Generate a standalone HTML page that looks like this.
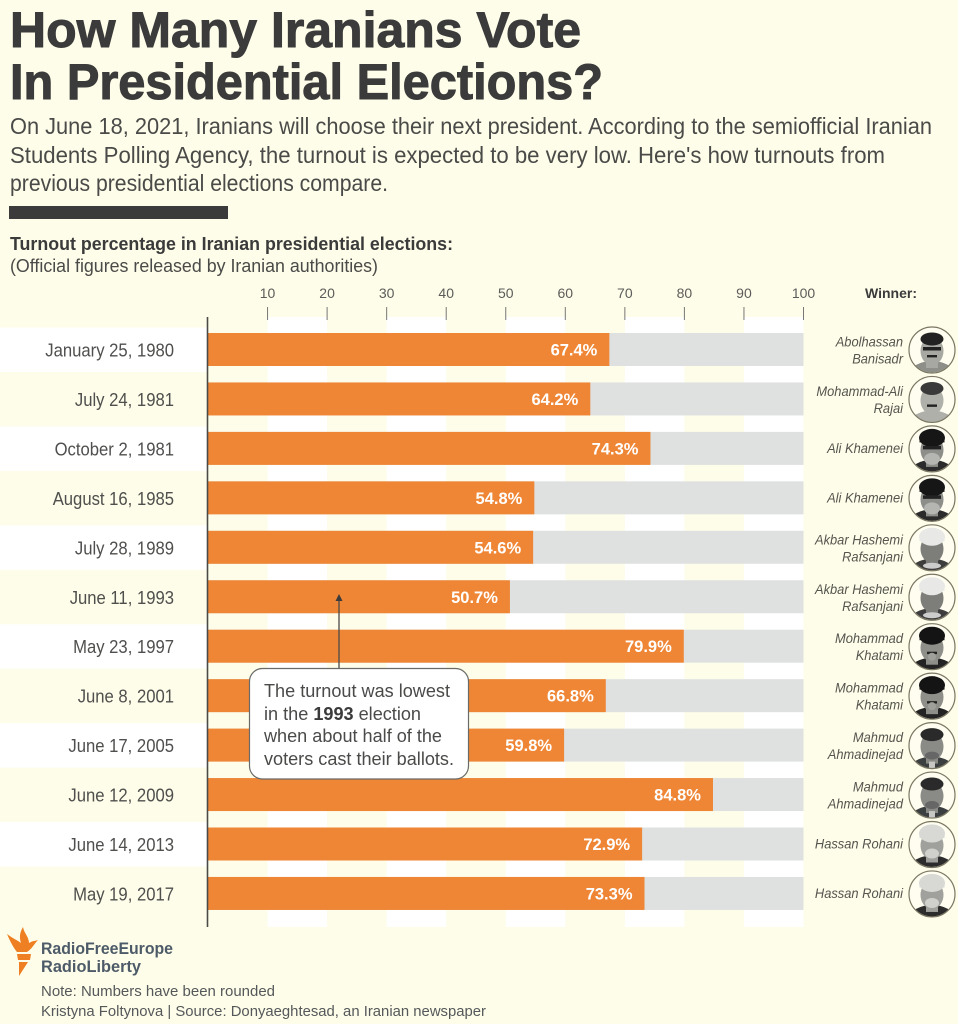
<!DOCTYPE html>
<html lang="en">
<head>
<meta charset="utf-8">
<title>How Many Iranians Vote In Presidential Elections?</title>
<style>
html,body{margin:0;padding:0;background:#fefde9;}
svg{display:block;font-family:"Liberation Sans",sans-serif;}
</style>
</head>
<body>
<svg id="page" xmlns="http://www.w3.org/2000/svg" width="958" height="1024" viewBox="0 0 958 1024">
  <rect x="0" y="0" width="958" height="1024" fill="#fefde9"/>
  <g fill="#3b3b3b" stroke="#3b3b3b" stroke-width="1" font-weight="700" font-size="50">
    <text x="10" y="47" textLength="571" lengthAdjust="spacingAndGlyphs">How Many Iranians Vote</text>
    <text x="10" y="99" textLength="593" lengthAdjust="spacingAndGlyphs">In Presidential Elections?</text>
  </g>
  <g fill="#4a4a48" font-size="23.5">
    <text x="10" y="134" textLength="922" lengthAdjust="spacingAndGlyphs">On June 18, 2021, Iranians will choose their next president. According to the semiofficial Iranian</text>
    <text x="10" y="163" textLength="875" lengthAdjust="spacingAndGlyphs">Students Polling Agency, the turnout is expected to be very low. Here's how turnouts from</text>
    <text x="10" y="191" textLength="378" lengthAdjust="spacingAndGlyphs">previous presidential elections compare.</text>
  </g>
  <rect x="9" y="206" width="219" height="13" fill="#3b3b3b"/>
  <text x="10" y="250" fill="#3b3b3b" font-size="18.5" font-weight="700" textLength="443" lengthAdjust="spacingAndGlyphs">Turnout percentage in Iranian presidential elections:</text>
  <text x="10" y="272" fill="#4a4a48" font-size="18" textLength="368" lengthAdjust="spacingAndGlyphs">(Official figures released by Iranian authorities)</text>
  <text x="865" y="298" fill="#3b3b3b" font-size="13.5" font-weight="700" textLength="52" lengthAdjust="spacingAndGlyphs">Winner:</text>

  <g id="chart"></g>

  <g>
    <line x1="339" y1="600" x2="339" y2="669" stroke="#4a4a48" stroke-width="1.3"/>
    <polygon points="339,594 335.5,601 342.5,601" fill="#3b3b3b"/>
    <rect x="249.5" y="668.5" width="219" height="110.5" rx="13" fill="#ffffff" stroke="#6a6a68" stroke-width="1.2"/>
    <g fill="#4a4a48" font-size="18.5">
      <text x="264" y="697" textLength="186" lengthAdjust="spacingAndGlyphs">The turnout was lowest</text>
      <text x="264" y="720" textLength="157" lengthAdjust="spacingAndGlyphs">in the <tspan font-weight="700" fill="#3b3b3b">1993</tspan> election</text>
      <text x="264" y="742" textLength="178" lengthAdjust="spacingAndGlyphs">when about half of the</text>
      <text x="264" y="765" textLength="190" lengthAdjust="spacingAndGlyphs">voters cast their ballots.</text>
    </g>
  </g>

  <g fill="#ee7f22">
    <path d="M7 934 C12 938 17 940 21 943 C19 937 20 932 23 927 C24 933 29 937 29 943 C32 941 35 941 38 940 C34 944 32 949 27 952 L17 952 C13 947 10 941 7 934 Z"/>
    <path d="M17 954 L31 954 L30 960 L18 960 Z"/>
    <path d="M19 962 L28 962 L19 976 Z"/>
  </g>
  <g fill="#4d5b69" font-size="17" font-weight="700">
    <text x="41" y="954" textLength="132" lengthAdjust="spacingAndGlyphs">RadioFreeEurope</text>
    <text x="41" y="972" textLength="100" lengthAdjust="spacingAndGlyphs">RadioLiberty</text>
  </g>
  <g fill="#55585a" font-size="15">
    <text x="41" y="996" textLength="234" lengthAdjust="spacingAndGlyphs">Note: Numbers have been rounded</text>
    <text x="41" y="1016" textLength="445" lengthAdjust="spacingAndGlyphs">Kristyna Foltynova | Source: Donyaeghtesad, an Iranian newspaper</text>
  </g>
</svg>
<script>
const electionDates = ["January 25, 1980","July 24, 1981","October 2, 1981","August 16, 1985","July 28, 1989","June 11, 1993","May 23, 1997","June 8, 2001","June 17, 2005","June 12, 2009","June 14, 2013","May 19, 2017"];
const turnoutValues = [67.4,64.2,74.3,54.8,54.6,50.7,79.9,66.8,59.8,84.8,72.9,73.3];
const winnerNames = [["Abolhassan","Banisadr"],["Mohammad-Ali","Rajai"],["Ali Khamenei"],["Ali Khamenei"],["Akbar Hashemi","Rafsanjani"],["Akbar Hashemi","Rafsanjani"],["Mohammad","Khatami"],["Mohammad","Khatami"],["Mahmud","Ahmadinejad"],["Mahmud","Ahmadinejad"],["Hassan Rohani"],["Hassan Rohani"]];
const winnerLooks = ["banisadr","rajai","khamenei","khamenei","rafsanjani","rafsanjani","khatami","khatami","ahmadinejad","ahmadinejad","rohani","rohani"];
const axisTicks = [10,20,30,40,50,60,70,80,90,100];

const NS = "http://www.w3.org/2000/svg";
const chart = document.getElementById("chart");
const x = v => 208 + v * 5.955;
const rowCenter = i => 349.5 + i * 49.45;
const BAR_H = 33;

function mk(parent, tag, attrs, text) {
  const el = document.createElementNS(NS, tag);
  for (const k in attrs) el.setAttribute(k, attrs[k]);
  if (text !== undefined) el.textContent = text;
  parent.appendChild(el);
  return el;
}
function squeeze(el, factor) {
  el.setAttribute("textLength", (el.getComputedTextLength() * factor).toFixed(1));
  el.setAttribute("lengthAdjust", "spacingAndGlyphs");
}

// white column bands, every other decade
axisTicks.forEach((t, i) => {
  if (i % 2 === 0) {
    const band = mk(chart, "rect", {x: x(t), y: 317, width: x(t + 10) - x(t), height: 610, fill: "#ffffff"});
    
    
  }
});

// axis ticks and labels
axisTicks.forEach(t => {
  const tick = mk(chart, "line", {x1: x(t), x2: x(t), y1: 307, y2: 320, stroke: "#777", "stroke-width": 1});
  
  
  const label = mk(chart, "text", {x: x(t), y: 298, "text-anchor": "middle", "font-size": 14, fill: "#5c5c5a"}, t);
  
  
});

electionDates.forEach((date, i) => {
  const cy = rowCenter(i);
  if (i % 2 === 0) {
    const stripe = mk(chart, "rect", {x: 0, y: cy - 22, width: 208, height: 44.5, fill: "#ffffff"});
    
    
  }
  const dateLabel = mk(chart, "text", {x: 174, y: cy + 7, "text-anchor": "end", "font-size": 18.5, fill: "#4f4f4d"}, date);
  
  
  squeeze(dateLabel, 0.9);

  const rest = mk(chart, "rect", {x: x(0), y: cy - BAR_H / 2, width: x(100) - x(0), height: BAR_H, fill: "#dfe1e1"});
  
  
  const bar = mk(chart, "rect", {x: x(0), y: cy - BAR_H / 2, width: x(turnoutValues[i]) - x(0), height: BAR_H, fill: "#ef8635"});
  
  
  const val = mk(chart, "text", {x: x(turnoutValues[i]) - 12, y: cy + 6, "text-anchor": "end", "font-size": 16.5, "font-weight": 700, fill: "#fff"}, turnoutValues[i].toFixed(1) + "%");
  
  

  const lines = winnerNames[i];
  lines.forEach((line, j) => {
    const yy = lines.length === 1 ? cy + 4.5 : cy - 3 + j * 17;
    const name = mk(chart, "text", {x: 903, y: yy, "text-anchor": "end", "font-size": 14, "font-style": "italic", fill: "#55554f"}, line);
    
    
    squeeze(name, 0.92);
  });
  drawPortrait(i, 932, cy + 0.5, winnerLooks[i]);
});

const axisLine = mk(chart, "line", {x1: 207.5, x2: 207.5, y1: 317, y2: 927, stroke: "#4a4a48", "stroke-width": 1.6});



function drawPortrait(i, cx, cy, look) {
  const g = mk(chart, "g", {});
  
  
  const clip = mk(g, "clipPath", {id: "clip" + i});
  mk(clip, "circle", {cx, cy, r: 22.5});
  mk(g, "circle", {cx, cy, r: 23, fill: "#fefdf0"});
  const a = mk(g, "g", {"clip-path": "url(#clip" + i + ")"});
  const e = (ex, ey, rx, ry, fill) => mk(a, "ellipse", {cx: cx + ex, cy: cy + ey, rx, ry, fill});
  const r = (rx, ry, w, h, fill) => mk(a, "rect", {x: cx + rx, y: cy + ry, width: w, height: h, fill});

  const styles = {
    banisadr:    {body: "#8f8f8a", face: "#a8a8a2", hair: "#222", shape: "hair"},
    rajai:       {body: "#b0b0aa", face: "#b0b0aa", hair: "#3a3a3a", shape: "hair"},
    khamenei:    {body: "#2b2b2b", face: "#8d8d8a", hair: "#161616", shape: "turban"},
    rafsanjani:  {body: "#3d3d3d", face: "#7d7d7a", hair: "#e8e8e6", shape: "turban"},
    khatami:     {body: "#232323", face: "#8f8f8a", hair: "#141414", shape: "turban"},
    ahmadinejad: {body: "#3c3f40", face: "#8a8a86", hair: "#2a2a2a", shape: "hair"},
    rohani:      {body: "#2c2c2c", face: "#a0a09c", hair: "#d8d8d4", shape: "turban"}
  };
  const s = styles[look];
  e(0, 24, 22, 13, s.body);
  r(-6, 8, 12, 10, s.face);
  e(0, 1, 11.5, 14, s.face);
  if (s.shape === "turban") {
    e(0, -11, 13, 9, s.hair);
    r(-12.5, -11, 25, 4.5, s.hair);
  } else {
    e(0, -11, 11.5, 6.5, s.hair);
  }
  if (look === "banisadr" || look === "khamenei") {
    r(-9, -3, 18, 3.5, "#222");
  }
  if (look === "rajai" || look === "banisadr" || look === "khatami") {
    r(-5, 5, 10, 2.4, "#222");
  }
  if (look === "khamenei") {
    e(0, 10, 8, 6, "#b5b5b2");
  }
  if (look === "khatami") {
    e(0, 10, 4, 4, "#a0a09b");
  }
  if (look === "ahmadinejad") {
    e(0, 10, 7, 4, "#666");
    r(-3, 16, 6, 8, "#c7c7c4");
  }
  if (look === "rafsanjani") {
    e(0, 18, 9, 3, "#ccc");
  }
  if (look === "rohani") {
    e(0, 9, 7, 5, "#d0d0cc");
  }
  mk(g, "circle", {cx, cy, r: 23, fill: "none", stroke: "#7a7662", "stroke-width": 1.2});
}
</script>
</body>
</html>
